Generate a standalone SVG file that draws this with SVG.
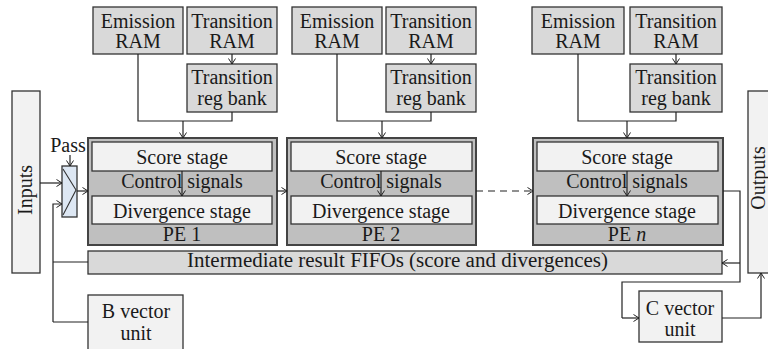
<svg xmlns="http://www.w3.org/2000/svg" width="768" height="349" viewBox="0 0 768 349">
<defs>
<marker id="arr" markerWidth="8" markerHeight="8" refX="6" refY="4" orient="auto" markerUnits="userSpaceOnUse">
<path d="M0.5,0.5 L6,4 L0.5,7.5" fill="none" stroke="#222" stroke-width="1"/>
</marker>
<style>
text{font-family:"Liberation Serif","Times New Roman",serif;font-size:20px;fill:#1a1a1a;text-anchor:middle}
.ram{fill:#d9d9d9;stroke:#333;stroke-width:1.3}
.pe{fill:#bfbfbf;stroke:#444;stroke-width:2}
.stage{fill:#f2f2f2;stroke:#333;stroke-width:1.3}
.light{fill:#f2f2f2;stroke:#333;stroke-width:1.3}
.c{fill:none;stroke:#222;stroke-width:1.2}
.a{fill:none;stroke:#222;stroke-width:1.2;marker-end:url(#arr)}
</style>
</defs>
<rect width="768" height="349" fill="#fff"/>

<g id="inputs">
<rect class="light" x="12" y="91" width="28" height="182"/>
<text transform="translate(32,190) rotate(-90)">Inputs</text>
</g>
<g id="outputs">
<rect class="light" x="748" y="91" width="30" height="182"/>
<text transform="translate(765,178) rotate(-90)">Outputs</text>
</g>
<g id="mux">
<rect x="62" y="166" width="15" height="51" fill="#dde7f3" stroke="#333" stroke-width="1.3"/>
<path d="M63,169 L76,190 L63,215" fill="none" stroke="#333" stroke-width="1.1"/>
<text x="68" y="152">Pass</text>
</g>

<g id="emission1"><rect class="ram" x="93" y="7" width="90" height="47"/><text x="138" y="28">Emission</text><text x="138" y="48">RAM</text></g>
<g id="transition1"><rect class="ram" x="187" y="7" width="90" height="47"/><text x="232" y="28">Transition</text><text x="232" y="48">RAM</text></g>
<g id="regbank1"><rect class="ram" x="187" y="64" width="90" height="48"/><text x="232" y="84">Transition</text><text x="232" y="105">reg bank</text></g>

<g id="emission2"><rect class="ram" x="292" y="7" width="90" height="47"/><text x="337" y="28">Emission</text><text x="337" y="48">RAM</text></g>
<g id="transition2"><rect class="ram" x="386" y="7" width="90" height="47"/><text x="431" y="28">Transition</text><text x="431" y="48">RAM</text></g>
<g id="regbank2"><rect class="ram" x="386" y="64" width="90" height="48"/><text x="431" y="84">Transition</text><text x="431" y="105">reg bank</text></g>

<g id="emissionn"><rect class="ram" x="532" y="7" width="92" height="47"/><text x="578" y="28">Emission</text><text x="578" y="48">RAM</text></g>
<g id="transitionn"><rect class="ram" x="630" y="7" width="92" height="47"/><text x="676" y="28">Transition</text><text x="676" y="48">RAM</text></g>
<g id="regbankn"><rect class="ram" x="630" y="64" width="92" height="48"/><text x="676" y="84">Transition</text><text x="676" y="105">reg bank</text></g>

<g id="pe1">
<rect class="pe" x="88" y="138" width="189" height="107"/>
<rect class="stage" x="92" y="142" width="180" height="29"/><text x="182" y="164">Score stage</text>
<text x="182" y="188">Control signals</text>
<rect class="stage" x="92" y="196" width="180" height="28"/><text x="182" y="218">Divergence stage</text>
<text x="182" y="241">PE 1</text>
</g>
<g id="pe2">
<rect class="pe" x="287" y="138" width="189" height="107"/>
<rect class="stage" x="291" y="142" width="181" height="29"/><text x="381" y="164">Score stage</text>
<text x="381" y="188">Control signals</text>
<rect class="stage" x="291" y="196" width="181" height="28"/><text x="381" y="218">Divergence stage</text>
<text x="381" y="241">PE 2</text>
</g>
<g id="pen">
<rect class="pe" x="533" y="138" width="190" height="107"/>
<rect class="stage" x="537" y="142" width="181" height="29"/><text x="627" y="164">Score stage</text>
<text x="627" y="188">Control signals</text>
<rect class="stage" x="537" y="196" width="181" height="28"/><text x="627" y="218">Divergence stage</text>
<text x="627" y="241">PE <tspan font-style="italic">n</tspan></text>
</g>

<g id="fifo">
<rect class="ram" x="88" y="251" width="634" height="23"/>
<text x="187" y="267" style="text-anchor:start" textLength="421" lengthAdjust="spacingAndGlyphs">Intermediate result FIFOs (score and divergences)</text>
</g>
<g id="bvector">
<rect class="light" x="88" y="295" width="95" height="60"/>
<text x="136" y="318">B vector</text><text x="136" y="340">unit</text>
</g>
<g id="cvector">
<rect class="light" x="639" y="291" width="83" height="51"/>
<text x="680" y="315">C vector</text><text x="680" y="336">unit</text>
</g>

<g id="connectors">
<path class="a" d="M40,183 H62"/>
<path class="a" d="M53,322 V204 H62"/>
<path class="c" d="M53,262 H88"/>
<path class="c" d="M53,322 H88"/>
<path class="a" d="M70,155 V166"/>
<path class="a" d="M77,191 H88"/>
<path class="a" d="M277,191 H287"/>
<path class="a" d="M476,191 H533" stroke-dasharray="7 5"/>

<path class="c" d="M138,54 V121 H232 V112"/>
<path class="a" d="M232,54 V64"/>
<path class="a" d="M183,121 V138"/>
<path class="a" d="M182,171 V196"/>

<path class="c" d="M337,54 V121 H431 V112"/>
<path class="a" d="M431,54 V64"/>
<path class="a" d="M382,121 V138"/>
<path class="a" d="M381,171 V196"/>

<path class="c" d="M578,54 V121 H676 V112"/>
<path class="a" d="M676,54 V64"/>
<path class="a" d="M627,121 V138"/>
<path class="a" d="M627,171 V196"/>

<path class="c" d="M723,191 H740 V282 H622 V318"/>
<path class="a" d="M622,318 H639"/>
<path class="a" d="M740,263 H722"/>
<path class="a" d="M722,318 H761 V273"/>
</g>
</svg>
